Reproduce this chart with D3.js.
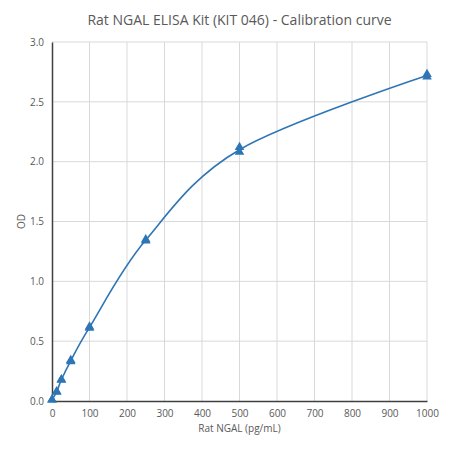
<!DOCTYPE html>
<html>
<head>
<meta charset="utf-8">
<script src="https://cdn.jsdelivr.net/npm/d3@7"></script>
<style>
  body { margin: 0; background: #fff; }
  text { font-family: "Open Sans", sans-serif; fill: #595959; }
</style>
</head>
<body>
<script>
const width = 450;
const height = 450;

// standards (pg/mL) and duplicate OD readings
const conc = [0, 12.5, 25, 50, 100, 250, 500, 1000];
const od1 = [0.01, 0.075, 0.175, 0.33, 0.61, 1.34, 2.08, 2.71];
const od2 = [0.01, 0.08, 0.18, 0.34, 0.62, 1.35, 2.12, 2.73];
const xTicks = [0, 100, 200, 300, 400, 500, 600, 700, 800, 900, 1000];
const yTicks = [0, 0.5, 1.0, 1.5, 2.0, 2.5, 3.0];

const margin = {top: 42, right: 23, bottom: 49, left: 52};

const svg = d3.create('svg')
  .attr('width', width)
  .attr('height', height);
document.body.appendChild(svg.node());

const x = d3.scaleLinear().domain([0, 1000]).range([margin.left, width - margin.right]);
const y = d3.scaleLinear().domain([0, 3]).range([height - margin.bottom, margin.top]);

// gridlines
svg.append('g')
  .selectAll('line')
  .data(xTicks.slice(1))
  .enter().append('line')
  .attr('x1', d => x(d)).attr('x2', d => x(d))
  .attr('y1', y(0)).attr('y2', y(3))
  .attr('stroke', '#d9d9d9').attr('stroke-width', 1);

svg.append('g')
  .selectAll('line')
  .data(yTicks.slice(1))
  .enter().append('line')
  .attr('x1', x(0)).attr('x2', x(1000))
  .attr('y1', d => y(d)).attr('y2', d => y(d))
  .attr('stroke', '#d9d9d9').attr('stroke-width', 1);

// axes
const xAxis = svg.append('g')
  .attr('transform', `translate(0,${y(0)})`)
  .call(d3.axisBottom(x).tickValues(xTicks).tickFormat(d3.format('d')).tickSize(0).tickPadding(9));
const yAxis = svg.append('g')
  .attr('transform', `translate(${x(0)},0)`)
  .call(d3.axisLeft(y).tickValues(yTicks).tickFormat(d3.format('.1f')).tickSize(0).tickPadding(8));

[xAxis, yAxis].forEach(a => {
  a.select('.domain').attr('stroke', '#404040').attr('stroke-width', 1.5);
  a.selectAll('text').attr('font-size', 10).attr('fill', '#595959')
    .attr('font-family', '"Open Sans", sans-serif');
});

// smoothed curve through mean of duplicates (Excel-style smoothing)
const mean = conc.map((c, i) => [c, (od1[i] + od2[i]) / 2]);
const line = d3.line()
  .x(d => x(d[0]))
  .y(d => y(d[1]))
  .curve(d3.curveCardinal.tension(0));

svg.append('path')
  .datum(mean)
  .attr('d', line)
  .attr('fill', 'none')
  .attr('stroke', '#2e75b6')
  .attr('stroke-width', 1.6);

// markers
const tri = d3.symbol().type(d3.symbolTriangle).size(40);
const pts = conc.map((c, i) => [c, od1[i]]).concat(conc.map((c, i) => [c, od2[i]]));
svg.append('g')
  .selectAll('path')
  .data(pts)
  .enter().append('path')
  .attr('d', tri)
  .attr('transform', d => `translate(${x(d[0])},${y(d[1])})`)
  .attr('fill', '#2e75b6');

// titles
svg.append('text')
  .attr('x', (x(0) + x(1000)) / 2)
  .attr('y', 25)
  .attr('text-anchor', 'middle')
  .attr('font-size', 14)
  .text('Rat NGAL ELISA Kit (KIT 046) - Calibration curve');

svg.append('text')
  .attr('x', (x(0) + x(1000)) / 2)
  .attr('y', 432)
  .attr('text-anchor', 'middle')
  .attr('font-size', 10)
  .text('Rat NGAL (pg/mL)');

svg.append('text')
  .attr('transform', `translate(25,${(y(0) + y(3)) / 2}) rotate(-90)`)
  .attr('text-anchor', 'middle')
  .attr('font-size', 10)
  .text('OD');
</script>
</body>
</html>
